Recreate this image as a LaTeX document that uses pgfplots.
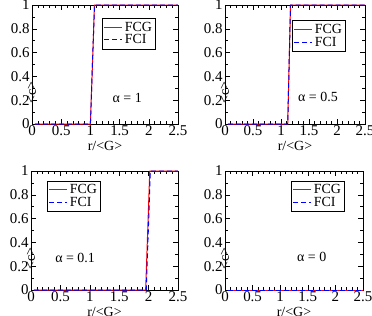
\documentclass[border=0pt]{standalone}
\usepackage{fontspec}
\setmainfont{Liberation Serif}
\usepackage{pgfplots}
\pgfplotsset{compat=1.18}
\pgfplotsset{
  scale only axis, width=146bp, height=119bp,
  xmin=0, xmax=2.5, ymin=0, ymax=1,
  xtick={0,0.5,1,1.5,2,2.5}, ytick={0,0.2,0.4,0.6,0.8,1},
  minor x tick num=4, minor y tick num=1,
  tick align=inside, major tick length=5bp, minor tick length=2.8bp,
  tick style={black, line width=0.6pt},
  axis line style={line width=0.8pt},
  /pgf/number format/assume math mode=true,
  tick label style={font=\fontsize{15}{17}\selectfont},
  xticklabel style={yshift=1.5bp},
  yticklabel style={xshift=1bp},
  label style={font=\fontsize{14}{16}\selectfont},
  xlabel style={at={(axis description cs:0.5,0)}, anchor=center, yshift=-22bp},
  ylabel style={at={(axis description cs:0,0.5)}, anchor=center, xshift=-28bp},
  clip=false,
  legend cell align=left,
  legend image code/.code={\draw[mark repeat=2,mark phase=2,#1] plot coordinates {(0bp,0bp) (9bp,0bp) (18bp,0bp)};},
  legend style={fill=white, font=\fontsize{14}{16}\selectfont, inner sep=1.5bp, row sep=-2bp, anchor=north west},
}
\begin{document}
\begin{tikzpicture}
\path[use as bounding box] (0bp,-316bp) rectangle (372bp,0bp);
% top-left
\begin{axis}[at={(32bp,-124bp)}, anchor=south west, xlabel={r/<G>}, ylabel={<c>},
  legend style={at={(axis description cs:0.48,0.89)}}]
\addplot[red, line width=1pt] coordinates {(0.05,0) (1.0,0) (1.07,1) (2.5,1)};
\addplot[blue, line width=1pt, dash pattern=on 5bp off 3bp] coordinates {(0.05,0) (1.0,0) (1.07,1) (2.5,1)};
\legend{FCG,FCI}
\node[font=\fontsize{14}{16}\selectfont] at (axis cs:1.63,0.22) {α = 1};
\end{axis}
% top-right
\begin{axis}[width=140bp, at={(225bp,-124bp)}, anchor=south west, xlabel={r/<G>}, ylabel={<c>},
  legend style={at={(axis description cs:0.48,0.87)}}]
\addplot[red, line width=1pt] coordinates {(0.05,0) (1.12,0) (1.17,1) (2.5,1)};
\addplot[blue, line width=1pt, dash pattern=on 5bp off 3bp] coordinates {(0.05,0) (1.12,0) (1.17,1) (2.5,1)};
\legend{FCG,FCI}
\node[font=\fontsize{14}{16}\selectfont] at (axis cs:1.66,0.23) {α = 0.5};
\end{axis}
% bottom-left
\begin{axis}[width=147bp, at={(31bp,-290bp)}, anchor=south west, xlabel={r/<G>}, ylabel={<c>},
  legend style={at={(axis description cs:0.11,0.92)}}]
\addplot[red, line width=1pt] coordinates {(0.05,0) (1.95,0) (2.02,1) (2.5,1)};
\addplot[blue, line width=1pt, dash pattern=on 5bp off 3bp] coordinates {(0.05,0) (1.96,0) (2.03,1) (2.5,1)};
\legend{FCG,FCI}
\node[font=\fontsize{14}{16}\selectfont] at (axis cs:0.75,0.27) {α = 0.1};
\end{axis}
% bottom-right
\begin{axis}[width=138bp, at={(225bp,-290bp)}, anchor=south west, xlabel={r/<G>}, ylabel={<c>},
  legend style={at={(axis description cs:0.48,0.92)}}]
\addplot[red, line width=1pt] coordinates {(0.05,0) (2.5,0)};
\addplot[blue, line width=1pt, dash pattern=on 5bp off 3bp] coordinates {(0.05,0) (2.5,0)};
\legend{FCG,FCI}
\node[font=\fontsize{14}{16}\selectfont] at (axis cs:1.57,0.28) {α = 0};
\end{axis}
\end{tikzpicture}
\end{document}
